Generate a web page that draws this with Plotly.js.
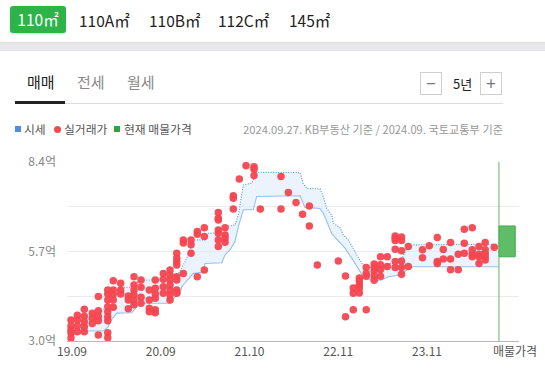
<!DOCTYPE html>
<html>
<head>
<meta charset="utf-8">
<script src="https://cdn.plot.ly/plotly-3.0.1.min.js"></script>
<style>
  html, body { margin:0; padding:0; background:#fff; }
  body { width:545px; height:382px; overflow:hidden; position:relative;
         font-family:"Noto Sans CJK KR","Noto Sans",sans-serif; }
  #chart { position:absolute; left:0; top:0; width:545px; height:382px; }
  .abs { position:absolute; white-space:nowrap; line-height:1; }
  .sizeTab { position:absolute; top:8px; font-size:15.5px; color:#222; line-height:24px; }
  #active { position:absolute; left:10px; top:6px; width:56px; height:27px; border-radius:3px;
            background:#2eb34b; color:#fff; font-size:15.5px; line-height:27px; text-align:center;
            box-shadow:0 1px 2px rgba(0,0,0,0.15); }
  #band { position:absolute; left:0; top:42px; width:545px; height:9px; background:#e8e8ea;
          border-top:1px solid #dcdcdc; box-sizing:border-box; }
  .deal { position:absolute; top:72px; font-size:15px; line-height:20px; }
  .btn { position:absolute; top:72px; width:22px; height:23px; border:1px solid #cfcfcf; box-sizing:border-box;
         color:#777; font-size:17px; line-height:20px; text-align:center; }
  .leg { position:absolute; top:121px; font-size:11.8px; color:#555; line-height:16px; white-space:nowrap; }
</style>
</head>
<body>
<div id="chart"></div>

<div id="active">110㎡</div>
<div class="sizeTab" style="left:79px">110A㎡</div>
<div class="sizeTab" style="left:149px">110B㎡</div>
<div class="sizeTab" style="left:218px">112C㎡</div>
<div class="sizeTab" style="left:289px">145㎡</div>
<div id="band"></div>

<div class="deal" style="left:27px;color:#222">매매</div>
<div class="deal" style="left:77px;color:#888">전세</div>
<div class="deal" style="left:127px;color:#888">월세</div>
<div class="abs" style="left:15px;top:103px;width:488px;height:1px;background:#ddd"></div>
<div class="abs" style="left:15px;top:101px;width:50px;height:3px;background:#222"></div>
<div class="btn" style="left:420px">−</div>
<div class="abs" style="left:453px;top:77px;font-size:13px;color:#222;line-height:14px">5년</div>
<div class="btn" style="left:480px">+</div>

<div class="abs" style="left:15px;top:126px;width:6px;height:6px;background:#4a90e2"></div>
<div class="leg" style="left:24px">시세</div>
<div class="abs" style="left:54px;top:126px;width:7px;height:7px;border-radius:50%;background:#f4474f"></div>
<div class="leg" style="left:64px">실거래가</div>
<div class="abs" style="left:114px;top:126px;width:6px;height:6px;background:#2aa640"></div>
<div class="leg" style="left:124px">현재 매물가격</div>
<div class="leg" style="right:42px;color:#999;font-size:11.2px">2024.09.27. KB부동산 기준 / 2024.09. 국토교통부 기준</div>

<script>
// x positions are in chart period units (tick every 12 units)
const tickVals = [0, 12, 24, 36, 48, 59.9];
const tickText = ['19.09', '20.09', '21.10', '22.11', '23.11', '매물가격'];

// 시세 upper / lower (억)
const upperX = [1.31,3.56,4.23,5.14,5.58,6.49,8.07,9.19,13.25,13.93,14.6,15.72,16.4,17.98,18.43,20.46,20.69,22.04,22.49,23.16,24.3,24.97,30.83,31.27,31.77,33.53,33.98,34.44,35.11,35.33,36.23,36.68,37.36,38.03,38.49,39.17,40.06,41.2,42.09,43.0,43.9,44.58,45.25,46.15,57.42];
const upperY = [3.75,3.75,3.96,3.96,4.24,4.62,4.62,4.84,4.84,4.99,5.09,5.60,6.05,6.05,6.25,6.27,6.45,6.50,6.80,7.71,7.76,8.09,8.08,7.74,7.60,7.59,7.35,7.00,6.80,6.55,6.42,6.20,6.05,5.80,5.60,5.34,5.24,5.19,5.24,5.34,5.41,5.46,5.80,5.90,5.92];
const lowerX = [1.31,4.23,4.91,5.14,6.04,8.07,9.19,13.25,13.93,14.6,14.83,16.4,17.75,17.98,20.24,20.69,21.36,22.04,22.49,22.94,23.16,24.51,24.97,30.83,31.5,33.53,33.98,34.65,35.11,36.23,36.91,37.82,38.71,39.39,40.74,41.87,42.77,43.9,44.35,45.25,46.15,57.73];
const lowerY = [3.30,3.30,3.43,3.58,3.84,3.85,4.14,4.14,4.34,4.41,4.64,5.04,5.07,5.34,5.36,5.60,5.75,6.00,6.45,6.80,6.96,6.96,7.36,7.38,7.03,7.00,6.85,6.50,6.24,5.97,5.80,5.50,5.19,4.94,4.81,4.84,4.94,4.99,4.99,5.14,5.24,5.24];

// 실거래가: period position and the prices traded there (억)
const dealX = [-0.14,0.72,1.66,2.74,3.56,4.83,5.58,6.58,7.61,8.38,9.33,10.45,11.26,12.34,13.25,14.16,15.05,16.09,16.94,17.89,19.78,20.69,21.81,22.62,23.53,24.61,25.46,28.26,29.25,30.29,31.17,32.09,33.17,36.01,36.98,38.03,38.85,39.78,40.86,41.71,42.63,43.70,44.55,45.47,47.39,48.31,49.39,50.20,51.18,52.23,53.04,54.12,55.03,55.87,57.10];
const dealPrices = [
 [3.63,3.45,3.33,3.24,3.09],
 [3.78,3.63,3.45,3.28],
 [3.96,3.75,3.58,3.43,3.28],
 [3.84,3.69,3.53],
 [4.34,3.91,3.75,3.61,3.18],
 [4.54,4.42,4.24,4.03,3.88,3.73,3.61,3.25,3.10],
 [4.82,4.54,4.42,4.24,4.02],
 [4.74,4.54,4.42],
 [4.36,4.24,3.97],
 [4.94,4.69,4.54,4.39,4.24,4.09],
 [4.84,4.62,4.32,4.14],
 [4.54,4.24,3.99,3.88],
 [4.84,4.59,4.42,4.29,3.94,3.85],
 [5.04,4.86,4.64,4.44],
 [5.14,4.99,4.84,4.69,4.54,4.39,4.24],
 [5.65,5.50,5.39,5.29,4.94,4.84,4.54,4.44],
 [6.05,5.96,5.04],
 [6.05,5.90,5.65],
 [6.30,6.22,4.94],
 [6.42,6.15,5.14],
 [6.88,6.70,6.65,6.35,6.25,6.05,5.85],
 [6.42,6.20,6.10,5.98],
 [7.38,7.31,6.98],
 [7.89],
 [8.29],
 [8.26,8.18,7.99],
 [6.98],
 [7.96,6.98],
 [7.48],
 [7.18],
 [6.82],
 [7.07,6.47],
 [5.29],
 [5.41],
 [4.96,3.73],
 [4.60,4.44,3.94],
 [4.90,4.80,4.69,4.60,4.45],
 [5.22,5.04,4.95,3.94],
 [5.32,5.22,5.11,4.97,4.83],
 [5.54,5.30,5.16,4.95],
 [5.54,5.25],
 [6.17,6.10,6.03,5.77,5.40,5.22],
 [6.14,6.03,5.72,5.41,5.22,5.01],
 [5.85,5.25],
 [5.75,5.51],
 [5.87],
 [6.12,5.40,5.34],
 [5.76,5.47],
 [5.97,5.47,5.15],
 [5.62,5.15],
 [6.37,5.95,5.65],
 [6.42,5.75,5.62,5.54],
 [5.85,5.62,5.54,5.34],
 [5.97,5.75,5.63,5.54,5.44],
 [5.83]
];

// 현재 매물가격 range (억) and position
const nowX = [57.73];
const listingX = [58.83];
const listingLow = [5.54];
const listingHigh = [6.47];

const px = [], py = [];
dealX.forEach((x, i) => dealPrices[i].forEach(v => { px.push(x); py.push(v); }));

const traces = [
  { x: upperX.concat(lowerX.slice().reverse()), y: upperY.concat(lowerY.slice().reverse()),
    type: 'scatter', mode: 'lines', fill: 'toself', fillcolor: 'rgba(222,236,252,0.6)',
    line: { width: 0 }, hoverinfo: 'skip' },
  { x: lowerX, y: lowerY, type: 'scatter', mode: 'lines',
    line: { color: '#96c0f0', width: 1.1 }, hoverinfo: 'skip' },
  { x: upperX, y: upperY, type: 'scatter', mode: 'lines',
    line: { color: '#4f94e6', width: 1.1, dash: '1px,1.5px' }, hoverinfo: 'skip' },
  { x: px, y: py, type: 'scatter', mode: 'markers',
    marker: { color: 'rgba(244,70,80,0.95)', size: 7.5, line: { width: 0 } }, hoverinfo: 'skip' },
  { x: listingX, y: listingHigh.map((h, i) => h - listingLow[i]), base: listingLow, type: 'bar',
    width: 2.2, marker: { color: '#5fbd67', line: { color: '#44a84d', width: 1 } }, hoverinfo: 'skip' }
];

const layout = {
  width: 545, height: 382,
  margin: { l: 67, r: 26, t: 162, b: 41, pad: 0 },
  paper_bgcolor: 'rgba(0,0,0,0)', plot_bgcolor: 'rgba(0,0,0,0)',
  showlegend: false,
  font: { family: '"Noto Sans CJK KR","Noto Sans",sans-serif' },
  xaxis: { range: [-0.68, 60.44], tickvals: tickVals, ticktext: tickText, showgrid: false,
           zeroline: false, showline: true, linecolor: '#b8b8b8', linewidth: 1, ticks: '',
           tickfont: { size: 12, color: '#555' }, fixedrange: true },
  yaxis: { range: [3.0, 8.4], tickvals: [3.0, 4.35, 5.7, 7.05, 8.4],
           ticktext: ['3.0억', '', '5.7억', '', '8.4억'], gridcolor: '#ebebeb', gridwidth: 1,
           zeroline: false, showline: false, ticks: '', ticklabelstandoff: 10,
           tickfont: { size: 12, color: '#888' }, fixedrange: true },
  shapes: [
    { type: 'line', xref: 'x', yref: 'y', x0: nowX[0], x1: nowX[0], y0: 3.0, y1: 8.4,
      line: { color: '#5cb85f', width: 1 } }
  ]
};

Plotly.newPlot('chart', traces, layout, { staticPlot: true, displayModeBar: false });
</script>
</body>
</html>
